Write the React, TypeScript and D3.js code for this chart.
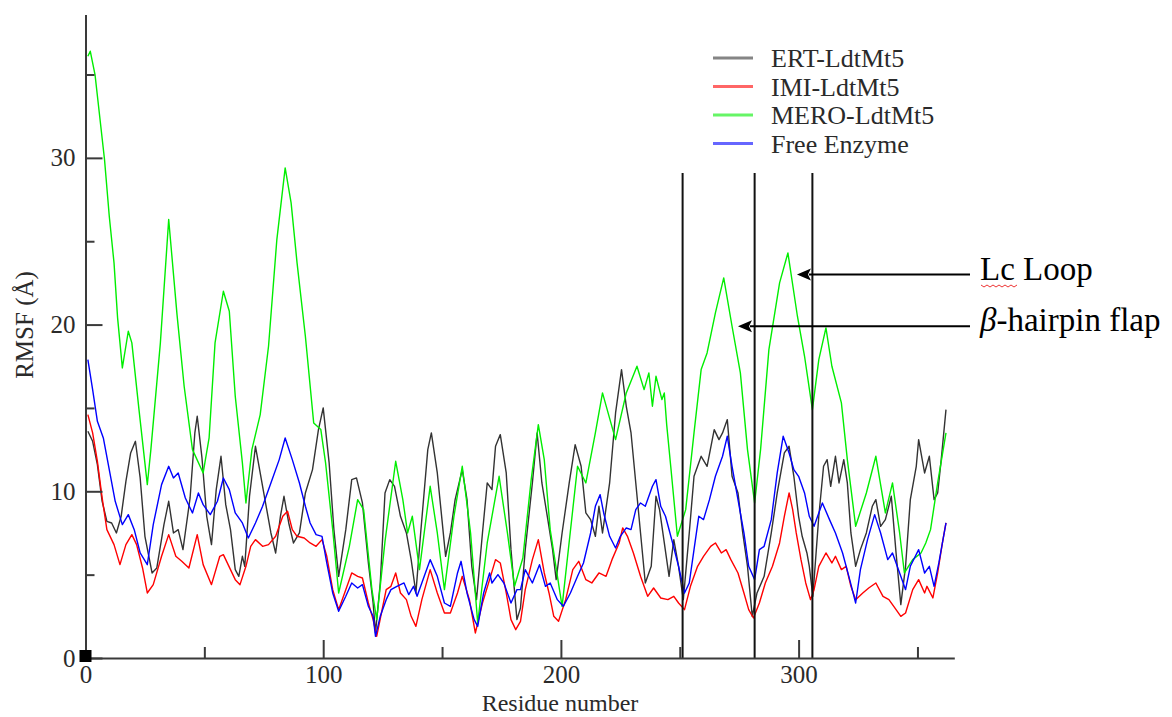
import { useEffect, useRef } from "react";
import * as d3 from "d3";

// [residue, RMSF]
const ertData: [number, number][] = [
  [1,13.6],[3,13.0],[5,11.6],[7,9.4],[9,8.2],[11,8.1],[13,7.5],[15,8.5],[17,10.6],[19,12.3],[21,13.0],[23,10.8],[25,7.3],[28,5.1],[30,5.4],[33,8.0],[35,9.4],[37,7.5],[39,7.7],[41,6.5],[44,9.6],[46,13.5],[47,14.5],[49,12.0],[51,8.5],[53,6.8],[55,10.1],[57,12.1],[59,9.2],[61,7.7],[63,5.3],[64.5,4.9],[66,6.1],[67,5.5],[69,9.7],[71.5,12.7],[74,10.7],[76,9.1],[78,7.5],[80,6.3],[82,8.5],[83.5,9.7],[85.5,8.1],[87.5,6.9],[90,7.5],[92.5,9.9],[95.5,11.3],[98,13.7],[100,15.0],[102.5,11.7],[104.5,7.7],[106.5,4.9],[109.5,7.7],[112,10.7],[114,10.8],[116.5,9.3],[119,5.7],[121,3.3],[122,1.5],[124,4.5],[126,9.9],[128,10.7],[130,10.3],[132.5,8.5],[135,7.5],[137,5.9],[139,3.9],[141,7.5],[144,12.5],[145.5,13.5],[148,11.1],[151.5,6.1],[153.5,7.5],[155.5,9.5],[158.5,11.3],[160.5,9.5],[162.5,5.5],[164.5,3.5],[167,7.5],[169,10.5],[171,10.1],[172.5,12.7],[174.5,13.4],[177,11.1],[179,6.5],[181.5,2.3],[183,3.0],[185,6.5],[188,10.5],[190,13.5],[192,10.5],[194.5,8.3],[196.5,6.5],[198,4.7],[200.5,7.5],[203.5,10.5],[206,12.8],[208.5,11.5],[210.5,8.7],[212.5,8.3],[214.5,7.3],[216,9.1],[217.5,7.5],[220.5,10.5],[223,14.7],[225.5,17.3],[227.5,15.1],[229.5,13.5],[231.5,10.5],[233.5,7.5],[235.5,4.5],[238,5.5],[240,9.7],[241.5,8.9],[243.5,6.9],[245.5,4.9],[247.5,7.1],[249.5,5.5],[251.5,3.5],[254,7.5],[256,10.9],[259,12.1],[261.5,11.5],[264.5,13.7],[266.5,13.1],[268,13.5],[270,14.3],[272,10.9],[274.5,9.9],[276.5,7.5],[278.5,5.5],[280.5,2.5],[282.5,3.9],[285.5,4.9],[288.5,7.5],[291,9.9],[294,12.3],[296,12.7],[298,10.9],[300,8.5],[301.5,7.3],[303.5,6.3],[304.5,5.5],[306,3.7],[308.5,8.5],[310.5,11.5],[312,11.9],[313.5,10.3],[315.5,12.1],[317,10.5],[319,11.9],[320.5,10.5],[322,7.5],[324,5.5],[326,6.5],[328.5,7.5],[331,9.1],[332.5,9.5],[334.5,7.9],[336.5,8.3],[339,9.7],[341,6.3],[343,3.2],[345,5.5],[347,9.5],[349.5,11.5],[350.5,13.1],[353,11.1],[355,12.1],[357,9.5],[358.5,9.9],[360,11.9],[362,14.9]
];

const imiData: [number, number][] = [
  [1,14.6],[3,13.5],[5,11.8],[7,9.6],[9,7.7],[12,6.8],[14.5,5.6],[17,6.8],[19.5,7.4],[21.5,6.8],[24,5.4],[26,3.9],[28.5,4.4],[32,6.1],[35,7.4],[38,6.1],[40.5,5.8],[43.5,5.4],[47,7.4],[49.5,5.6],[53,4.4],[56.5,6.1],[58,6.2],[60,5.6],[63,4.7],[65,4.4],[67.5,5.5],[69.5,6.7],[71.5,7.1],[74.5,6.7],[77,6.8],[80,7.3],[83,8.5],[85,8.8],[87,7.7],[89,7.3],[92,7.2],[94.5,6.9],[97,6.7],[99.5,7.1],[101.5,6.1],[104,4.1],[106.5,2.9],[109.5,4.1],[112,5.1],[114.5,4.9],[116.5,4.8],[119,3.3],[121,2.3],[122.5,1.3],[124.5,2.7],[126.5,4.1],[128.5,4.3],[130.5,5.1],[132.5,3.9],[135,3.5],[137,2.5],[139,1.9],[141.5,3.5],[145,5.3],[148,3.9],[151,2.7],[153.5,2.7],[156.5,3.9],[158.5,4.9],[161.5,3.5],[164,1.5],[167,3.3],[170,4.7],[172.5,5.9],[174.5,5.7],[177,3.9],[179,2.3],[181,1.7],[183,2.2],[185,4.1],[188,5.9],[190.5,7.1],[193,5.1],[195,3.9],[197,2.5],[199,2.2],[202,3.5],[205,5.3],[207.5,5.8],[210.5,4.7],[213,4.5],[216,5.1],[219,4.9],[221.5,5.9],[224.5,6.9],[226,7.8],[228,7.3],[230.5,6.3],[233.5,4.9],[236.5,3.7],[239,4.2],[242,3.6],[245,3.5],[247.5,3.7],[249.5,3.3],[252,2.9],[254.5,4.3],[257.5,5.5],[260,6.1],[263,6.7],[265,6.9],[267.5,6.3],[269.5,6.5],[271.5,5.9],[274.5,5.1],[277,3.9],[279,2.9],[281,2.4],[283.5,3.3],[286,4.5],[289,5.5],[292,6.9],[294,8.5],[296,9.9],[297.5,8.9],[299,7.5],[301,5.9],[303,4.5],[305,3.5],[306.5,4.1],[308.5,5.5],[311.5,6.3],[314,5.7],[315.5,6.1],[318,5.3],[320,5.5],[322,4.3],[324,3.5],[327,3.9],[329.5,4.2],[332.5,4.5],[335.5,3.7],[338,3.5],[341,2.9],[343,2.5],[345,2.7],[348,4.1],[350.5,4.7],[353,3.9],[354,4.3],[356.5,3.6],[358.5,5.1],[360.5,6.9],[362,8.1]
];

const meroData: [number, number][] = [
  [1,36.1],[2,36.4],[4,35.0],[8,29.9],[10,26.5],[12,23.7],[13.5,20.4],[15.5,17.4],[18,19.6],[19.5,18.9],[22.5,14.9],[26,10.4],[27.5,12.5],[31.5,18.9],[35,26.3],[38.5,20.6],[41.5,16.3],[45,12.5],[49.5,11.1],[52,13.2],[54.5,18.9],[58,22.0],[60.5,20.8],[63,15.7],[66,11.7],[67.5,9.3],[70,12.5],[73.5,14.6],[77,18.7],[80.5,25.1],[84,29.4],[86.5,27.3],[89,23.7],[92.5,19.3],[96,14.1],[99,13.7],[101,11.7],[104,7.7],[106.5,3.9],[111,6.7],[114.5,9.5],[117,8.9],[120.5,4.1],[122.5,2.3],[126,7.0],[130.5,11.8],[133.5,9.5],[135.5,7.5],[137.5,8.5],[140.5,5.3],[145,10.3],[148,7.5],[151,4.1],[155,8.5],[158.5,11.5],[162,7.5],[165,2.1],[169,6.9],[174,10.9],[177.5,7.5],[180.5,4.3],[184,6.0],[187.5,10.7],[190.5,14.0],[193,11.9],[195.5,7.7],[200.5,3.1],[207,11.5],[210.5,10.5],[214.5,13.5],[217.5,15.9],[223,13.1],[227.5,15.9],[232,17.5],[235,16.1],[237,17.1],[238.5,15.1],[240,16.9],[242.5,15.5],[243.5,15.9],[244.5,14.0],[246.2,11.5],[249,7.3],[252.5,8.9],[256,13.5],[259,17.3],[261.5,18.3],[265,20.7],[268.5,22.8],[272,19.9],[275.5,17.1],[278.5,12.5],[281.5,9.3],[284,12.5],[287.5,18.5],[292,22.5],[295.5,24.3],[299.5,20.5],[302.5,18.1],[305.8,14.9],[308.5,17.9],[311.5,19.8],[314,17.5],[318,15.3],[320.5,11.9],[324,7.9],[328.5,9.9],[332.5,12.1],[336.5,8.7],[339.5,10.5],[342.5,7.5],[344.5,5.1],[348,5.9],[351.5,6.3],[353.5,6.9],[355.5,7.7],[358.5,10.5],[362,13.5]
];

const freeData: [number, number][] = [
  [1,17.9],[3,16.1],[5,14.2],[7.5,13.2],[10,11.3],[12.5,9.4],[15.5,8.0],[18,8.6],[20.5,7.7],[23,6.3],[26,5.6],[28.5,8.0],[32,10.4],[35,11.5],[37,10.8],[39,11.1],[42,9.6],[45,8.7],[47.5,9.9],[49.5,9.2],[52.5,8.6],[55.5,9.4],[58,10.8],[60.5,10.1],[63,8.7],[66,8.1],[68.5,7.2],[71.5,8.1],[74.5,9.1],[78,10.5],[81.5,11.9],[84,13.2],[87,11.9],[90,10.5],[92.5,9.1],[94.5,8.1],[97,7.4],[99.5,7.3],[101.5,5.7],[104,3.9],[106.5,2.8],[109.5,3.7],[112,4.5],[114.5,4.2],[116.5,4.4],[119,3.1],[121,2.5],[122,1.3],[124,2.5],[126.5,3.5],[128.5,4.1],[131,4.3],[134,4.5],[136,3.8],[138,4.3],[139.5,3.7],[142.5,4.9],[145,5.9],[148,4.9],[151,3.3],[153.5,3.1],[156.5,5.1],[158,5.8],[160.5,3.9],[163.5,2.3],[165,1.9],[167.5,3.9],[170,5.1],[171,4.5],[173.5,5.0],[176,4.5],[179,3.3],[181.5,4.1],[183,4.1],[185,5.3],[188,4.5],[191,5.6],[193.5,4.3],[195.5,4.5],[198.5,3.5],[201,3.1],[204,3.9],[207,4.9],[209.5,5.7],[212.5,7.5],[214.5,9.1],[216.5,9.8],[218,8.7],[220.5,7.3],[223,6.6],[225,7.3],[227.5,7.8],[229.5,7.7],[231.5,8.9],[233.5,9.3],[235.5,9.1],[238.5,10.3],[240,10.7],[242,9.1],[244,8.5],[247,6.9],[249.5,5.5],[252,3.9],[254,4.5],[256,6.5],[258,8.5],[260,8.3],[262.5,9.5],[265,10.9],[268,12.1],[270,13.3],[272,11.5],[274.5,9.5],[277,7.5],[279,5.5],[281.5,4.7],[283.5,6.5],[285.5,6.7],[288.5,8.3],[291,11.1],[293.5,13.3],[296,12.3],[298,11.3],[300,10.9],[302.5,9.9],[304.5,8.5],[306.5,7.9],[310,9.3],[313,8.3],[315.5,7.5],[318.5,6.3],[321.5,4.7],[324,3.3],[326,5.3],[329,7.1],[332,8.6],[334.5,7.5],[337.5,5.9],[339.5,6.3],[342.5,5.1],[345,4.1],[347,5.5],[350.5,6.5],[353,5.1],[355,5.5],[357,4.3],[359,5.7],[362,8.1]
];

const seriesNames = ["ERT-LdtMt5", "IMI-LdtMt5", "MERO-LdtMt5", "Free Enzyme"];
const seriesColors = ["#333333", "#ff0000", "#00ee00", "#0000ff"];

const xMajorTicks = [0, 100, 200, 300];
const xMinorTicks = [50, 150, 250, 350];
const yMajorTicks = [0, 10, 20, 30];
const yMinorTicks = [5, 15, 25, 35];

// region boundaries (residue numbers)
const markerResidues = [251.2, 281.5, 305.8];

// arrow tips in data units
const annotations = [
  { label: "Lc Loop", residue: 299.3, value: 23.0 },
  { label: "-hairpin flap", residue: 274.5, value: 19.9, beta: true },
];

const FONT = "'Liberation Serif', 'Times New Roman', serif";

export default function App() {
  const svgRef = useRef<SVGSVGElement>(null);

  useEffect(() => {
    const svg = d3.select(svgRef.current);
    svg.selectAll("*").remove();

    const width = 1172;
    const height = 717;
    svg.attr("width", width).attr("height", height);

    const x = d3.scaleLinear().domain([0, 365.5]).range([85.5, 954.3]);
    const y = d3.scaleLinear().domain([0, 38.6]).range([658, 14.5]);

    const line = d3.line<[number, number]>()
      .x(d => x(d[0]))
      .y(d => y(d[1]));

    // Series
    const allSeries = [ertData, imiData, meroData, freeData];
    svg.append("g")
      .selectAll("path")
      .data(allSeries)
      .enter()
      .append("path")
      .attr("d", d => line(d))
      .attr("fill", "none")
      .attr("stroke", (_, i) => seriesColors[i])
      .attr("stroke-width", 1.4)
      .attr("stroke-linejoin", "round");

    // Vertical region markers
    svg.append("g")
      .selectAll("line")
      .data(markerResidues)
      .enter()
      .append("line")
      .attr("x1", d => x(d))
      .attr("x2", d => x(d))
      .attr("y1", 173)
      .attr("y2", y(0))
      .attr("stroke", "#111")
      .attr("stroke-width", 2);

    // Axes
    const axisColor = "#3a3a3a";
    const xg = svg.append("g")
      .attr("transform", `translate(0,${y(0)})`)
      .call(d3.axisBottom(x).tickValues(xMajorTicks).tickSize(-18).tickSizeOuter(0).tickPadding(7).tickFormat(d3.format("d")));
    svg.append("g")
      .attr("transform", `translate(0,${y(0)})`)
      .call(d3.axisBottom(x).tickValues(xMinorTicks).tickSize(-11).tickFormat(() => ""))
      .call(g => g.select(".domain").remove());

    const yg = svg.append("g")
      .attr("transform", `translate(${x(0)},0)`)
      .call(d3.axisLeft(y).tickValues(yMajorTicks).tickSize(-17).tickSizeOuter(0).tickPadding(10).tickFormat(d3.format("d")));
    svg.append("g")
      .attr("transform", `translate(${x(0)},0)`)
      .call(d3.axisLeft(y).tickValues(yMinorTicks).tickSize(-9).tickFormat(() => ""))
      .call(g => g.select(".domain").remove());

    svg.selectAll(".domain, .tick line")
      .attr("stroke", axisColor)
      .attr("stroke-width", 2);
    [xg, yg].forEach(g =>
      g.selectAll("text")
        .attr("font-family", FONT)
        .attr("font-size", 25)
        .attr("fill", "#2a2a2a")
    );

    // little square at the origin
    svg.append("rect")
      .attr("x", x(0) - 6)
      .attr("y", y(0) - 8)
      .attr("width", 12)
      .attr("height", 12)
      .attr("fill", "#000");

    // Axis titles
    svg.append("text")
      .attr("x", 560)
      .attr("y", 711)
      .attr("text-anchor", "middle")
      .attr("font-family", FONT)
      .attr("font-size", 24)
      .attr("fill", "#2a2a2a")
      .text("Residue number");

    svg.append("text")
      .attr("transform", "translate(33,325) rotate(-90)")
      .attr("text-anchor", "middle")
      .attr("font-family", FONT)
      .attr("font-size", 25)
      .attr("fill", "#2a2a2a")
      .text("RMSF (Å)");

    // Legend
    const legend = svg.append("g");
    const legendY = (i: number) => 58 + i * 28.5;
    seriesNames.forEach((name, i) => {
      legend.append("line")
        .attr("x1", 713).attr("x2", 753)
        .attr("y1", legendY(i)).attr("y2", legendY(i))
        .attr("stroke", seriesColors[i])
        .attr("stroke-opacity", 0.6)
        .attr("stroke-width", 3);
      legend.append("text")
        .attr("x", 771)
        .attr("y", legendY(i))
        .attr("dy", "0.35em")
        .attr("font-family", FONT)
        .attr("font-size", 26)
        .attr("fill", "#2a2a2a")
        .text(name);
    });

    // Annotations with arrows
    const ann = svg.append("g");
    annotations.forEach(a => {
      const tx = x(a.residue);
      const ty = y(a.value);
      ann.append("line")
        .attr("x1", tx + 12).attr("x2", 970)
        .attr("y1", ty).attr("y2", ty)
        .attr("stroke", "#000")
        .attr("stroke-width", 2);
      ann.append("path")
        .attr("d", `M${tx},${ty}L${tx + 14},${ty - 6}L${tx + 11},${ty}L${tx + 14},${ty + 6}Z`)
        .attr("fill", "#000");
      const t = ann.append("text")
        .attr("x", 980)
        .attr("y", ty + 5)
        .attr("font-family", FONT)
        .attr("font-size", 33)
        .attr("fill", "#000");
      if (a.beta) {
        t.append("tspan").attr("font-style", "italic").text("β");
      }
      t.append("tspan").text(a.label);
    });

    // spell-check squiggle under "Lc"
    const sq = d3.range(0, 13).map(i => [981 + i * 3, 285 + (i % 2 === 0 ? 0 : 2)] as [number, number]);
    svg.append("path")
      .attr("d", d3.line()(sq))
      .attr("fill", "none")
      .attr("stroke", "#e33")
      .attr("stroke-width", 1);
  }, []);

  return <svg ref={svgRef} style={{ position: "absolute", left: 0, top: 0, background: "#fff" }} />;
}
